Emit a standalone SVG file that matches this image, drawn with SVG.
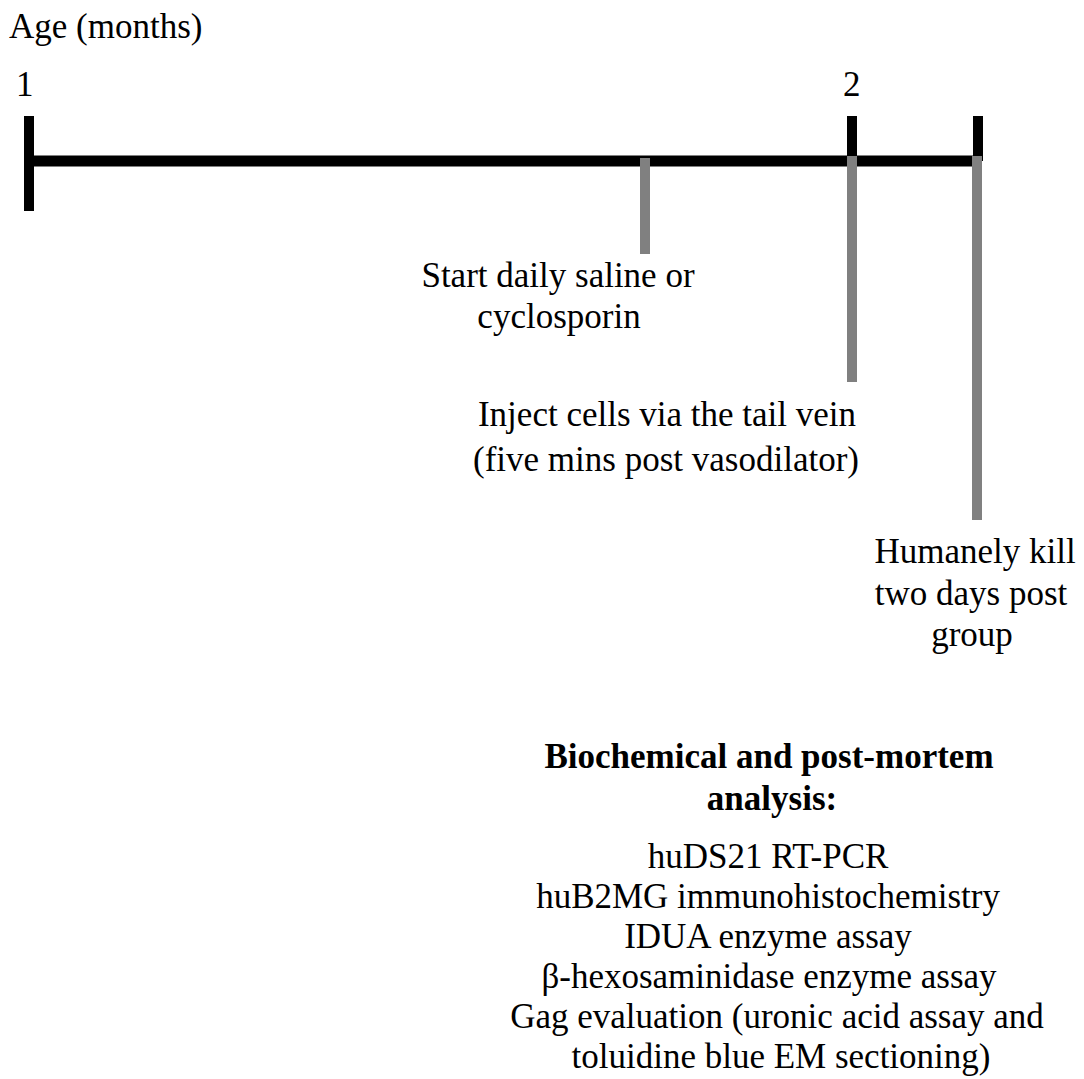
<svg xmlns="http://www.w3.org/2000/svg" width="1084" height="1079" viewBox="0 0 1084 1079">
<style>
text{font-family:"Liberation Serif","Times New Roman",serif;font-size:35px;fill:#000}
.c{text-anchor:middle}
.b{font-weight:bold}
.ax{stroke:#000;stroke-width:11;fill:none}
.tk{stroke:#000;stroke-width:10;fill:none}
.gr{stroke:#808080;stroke-width:10;fill:none}
</style>
<rect width="1084" height="1079" fill="#fff"/>
<g id="axis">
<text x="9" y="38">Age (months)</text>
<text x="16" y="96">1</text>
<text x="843" y="96">2</text>
<line class="ax" x1="24" y1="161" x2="980" y2="161"/>
<line class="tk" x1="29" y1="116" x2="29" y2="211"/>
<line class="tk" x1="852" y1="116" x2="852" y2="161"/>
<line class="tk" x1="978" y1="116" x2="978" y2="161"/>
</g>
<g id="connectors">
<line class="gr" x1="645" y1="158" x2="645" y2="254"/>
<line class="gr" x1="852" y1="156" x2="852" y2="382"/>
<line class="gr" x1="977" y1="156" x2="977" y2="520"/>
</g>
<g id="start">
<text class="c" x="558" y="287">Start daily saline or</text>
<text class="c" x="559" y="328">cyclosporin</text>
</g>
<g id="inject">
<text class="c" x="667" y="426">Inject cells via the tail vein</text>
<text class="c" x="666" y="471">(five mins post vasodilator)</text>
</g>
<g id="kill">
<text class="c" x="975" y="563">Humanely kill</text>
<text class="c" x="971" y="605">two days post</text>
<text class="c" x="972" y="646">group</text>
</g>
<g id="analysis">
<text class="c b" x="769" y="768">Biochemical and post-mortem</text>
<text class="c b" x="772" y="810">analysis:</text>
<text class="c" x="768" y="868">huDS21 RT-PCR</text>
<text class="c" x="768" y="908">huB2MG immunohistochemistry</text>
<text class="c" x="768" y="948">IDUA enzyme assay</text>
<text class="c" x="769" y="988">β-hexosaminidase enzyme assay</text>
<text class="c" x="777" y="1028">Gag evaluation (uronic acid assay and</text>
<text class="c" x="781" y="1068">toluidine blue EM sectioning)</text>
</g>
</svg>
